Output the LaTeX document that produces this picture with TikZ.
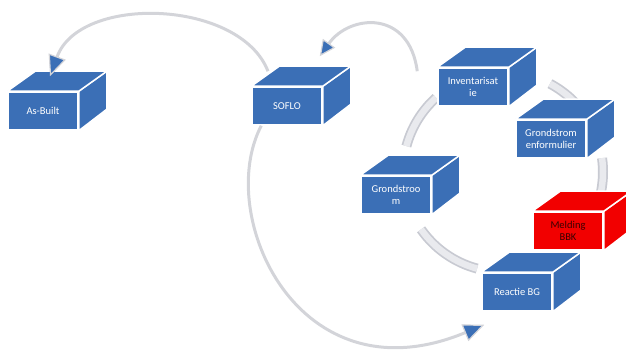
\documentclass[tikz,border=0pt]{standalone}
\usepackage{fontspec}
\setmainfont{Carlito}
\usetikzlibrary{arrows.meta,calc}
\definecolor{boxblue}{HTML}{3B6FB6}
\definecolor{boxred}{HTML}{F20000}
\definecolor{darktext}{HTML}{3A0000}
\definecolor{linegrey}{HTML}{D3D4D9}
\definecolor{bandgrey}{HTML}{C8CAD2}
\definecolor{bandfill}{HTML}{E9EAEE}
\tikzset{
  front/.style={rectangle, minimum width=70pt, minimum height=38pt, inner sep=1pt,
    draw=white, line width=1.5pt, align=center,
    font=\fontsize{10.5}{12}\selectfont, text=white},
  face/.style={draw=white, line width=1.5pt, line join=round},
  link/.style={draw=linegrey, line width=3pt},
  bandout/.style={draw=bandgrey, line width=10pt},
  bandin/.style={draw=bandfill, line width=6.5pt},
  bigtip/.style={-{Triangle[length=21pt,width=18pt,fill=boxblue,line width=1.2pt]}},
  smalltip/.style={-{Triangle[length=16pt,width=15pt,fill=boxblue,line width=1.2pt]}},
}
\newcommand{\cubebox}[5]{%
  \node[front, fill=#3, text=#4] (#1) at #2 {#5};
  \filldraw[face, fill=#3] (#1.north east) -- ++(28,-20) -- ++(0,38) -- (#1.south east) -- cycle;
  \filldraw[face, fill=#3] (#1.north west) -- ++(28,-20) -- ($(#1.north east)+(28,-20)$) -- (#1.north east) -- cycle;
}
\begin{document}
\begin{tikzpicture}[x=1pt,y=-1pt]
\useasboundingbox (0,0) rectangle (626,352);
% cycle bands
\coordinate (cc) at (503,172);
\foreach \a/\b in {-62/-30, -8/12, 105/145, 195/228}{
  \draw[bandout] ($(cc)+(\a:100)$) arc[start angle=\a, end angle=\b, radius=100];
  \draw[bandin] ($(cc)+(\a:100)$) arc[start angle=\a, end angle=\b, radius=100];
}
% boxes
\cubebox{asbuilt}{(43,111)}{boxblue}{white}{As-Built}
\cubebox{soflo}{(287,106)}{boxblue}{white}{SOFLO}
\cubebox{inv}{(473,87)}{boxblue}{white}{Inventarisat\\ie}
\cubebox{gsf}{(551,139)}{boxblue}{white}{Grondstrom\\enformulier}
\cubebox{gs}{(396,195)}{boxblue}{white}{Grondstroo\\m}
\cubebox{bbk}{(568,231)}{boxred}{darktext}{Melding\\BBK}
\cubebox{bg}{(517,292)}{boxblue}{white}{Reactie BG}
% connector end points
\coordinate (s1) at ($(soflo.north)+(-19,-15)$);
\coordinate (t1) at ($(asbuilt.north)+(7,-15)$);
\coordinate (s2) at ($(inv.north west)+(-20,4)$);
\coordinate (t2) at ($(soflo.north east)+(-3,-30)$);
\coordinate (s3) at ($(soflo.south west)+(10,0)$);
\coordinate (t3) at ($(bg.south west)+(3,13)$);
% connectors
\draw[link, bigtip] (s1) .. controls ($(s1)+(-28,-72)$) and ($(t1)+(30,-82)$) .. (t1);
\draw[link, smalltip] (s2) .. controls ($(s2)+(-8,-62)$) and ($(t2)+(30,-42)$) .. (t2);
\draw[link, bigtip] (s3) .. controls ($(s3)+(-47,90)$) and ($(t3)+(-186,77)$) .. (t3);
\end{tikzpicture}
\end{document}
